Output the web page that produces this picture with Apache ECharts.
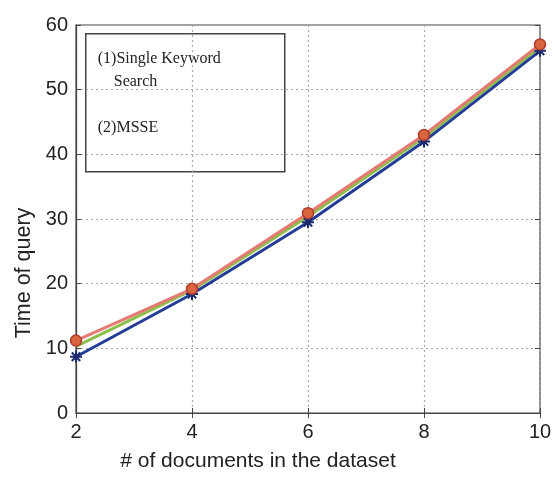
<!DOCTYPE html>
<html><head><meta charset="utf-8">
<script src="https://cdn.jsdelivr.net/npm/echarts@6/dist/echarts.min.js"></script>
<style>html,body{margin:0;padding:0;background:#fff}#c{width:555px;height:480px}</style>
</head><body><div id="c"></div>
<script>
const xValues = [2, 4, 6, 8, 10];
const singleKeyword = [11.2, 19.2, 30.9, 43.0, 57.0];
const greenSeries = [10.3, 19.0, 30.4, 42.6, 56.6];
const msse = [8.7, 18.4, 29.5, 42.0, 56.0];
const yTicks = [0, 10, 20, 30, 40, 50, 60];
const legendLines = ['(1)Single Keyword', '    Search', '', '(2)MSSE'];

const toPairs = arr => xValues.map((x, i) => [x, arr[i]]);
const star = 'path://M0,-10L0,10M-10,0L10,0M-7,-7L7,7M-7,7L7,-7';

const chart = echarts.init(document.getElementById('c'));
const axisFont = {fontFamily: 'Liberation Sans, Arial', fontSize: 20, color: '#222'};
chart.setOption({
  animation: false,
  grid: {left: 76, right: 15, top: 25, bottom: 67, show: true, borderColor: '#444', borderWidth: 1.2},
  xAxis: [{
    type: 'value', min: 2, max: 10, interval: 2,
    name: '# of documents in the dataset', nameLocation: 'middle', nameGap: 38,
    nameTextStyle: {fontFamily: 'Liberation Sans, Arial', fontSize: 21, color: '#222', padding: [0, 100, 0, 0]},
    axisLine: {lineStyle: {color: '#444', width: 1.2}},
    axisTick: {inside: true, length: 5, lineStyle: {color: '#444'}},
    axisLabel: Object.assign({margin: 9}, axisFont),
    splitLine: {show: true, lineStyle: {type: [2, 3], color: '#a8a8a8', width: 1.2}}
  }, {
    type: 'value', position: 'top', min: 2, max: 10, interval: 2,
    axisLine: {show: false}, axisTick: {inside: true, length: 5, lineStyle: {color: '#444'}},
    axisLabel: {show: false}, splitLine: {show: false}
  }],
  yAxis: [{
    type: 'value', min: 0, max: 60, interval: 10,
    name: 'Time of query', nameLocation: 'middle', nameGap: 37,
    nameTextStyle: {fontFamily: 'Liberation Sans, Arial', fontSize: 21.5, color: '#222', padding: [0, 108, 0, 0]},
    axisLine: {show: true, lineStyle: {color: '#444', width: 1.2}},
    axisTick: {show: true, inside: true, length: 5, lineStyle: {color: '#444'}},
    axisLabel: Object.assign({margin: 8, formatter: v => yTicks.includes(v) ? String(v) : ''}, axisFont),
    splitLine: {show: true, lineStyle: {type: [2, 3], color: '#a8a8a8', width: 1.2}}
  }, {
    type: 'value', position: 'right', min: 0, max: 60, interval: 10,
    axisLine: {show: false}, axisTick: {show: true, inside: true, length: 5, lineStyle: {color: '#444'}},
    axisLabel: {show: false}, splitLine: {show: false}
  }],
  series: [
    {type: 'line', data: toPairs(greenSeries), lineStyle: {color: '#8cbf4a', width: 3}, itemStyle: {color: '#8cbf4a'}, symbol: 'none', z: 2},
    {type: 'line', data: toPairs(msse), lineStyle: {color: '#233d96', width: 3}, symbol: star, symbolSize: 12, z: 3,
      itemStyle: {color: '#1a2a70', borderColor: '#1a2a70', borderWidth: 2}},
    {type: 'line', data: toPairs(singleKeyword), lineStyle: {color: '#e57a74', width: 3}, symbol: 'circle', symbolSize: 11, z: 4,
      itemStyle: {color: '#d9653c', borderColor: '#b03a30', borderWidth: 1.5}}
  ],
  graphic: [{
    type: 'group', left: 85, top: 33,
    children: [
      {type: 'rect', shape: {x: 0, y: 0, width: 199, height: 138}, style: {fill: '#fff', stroke: '#444', lineWidth: 1.5}},
      {type: 'text', left: 12, top: 14, style: {text: legendLines.join('\n'), fontFamily: 'Liberation Serif, Times New Roman', fontSize: 16, fill: '#222', lineHeight: 23}}
    ]
  }]
});
</script></body></html>
